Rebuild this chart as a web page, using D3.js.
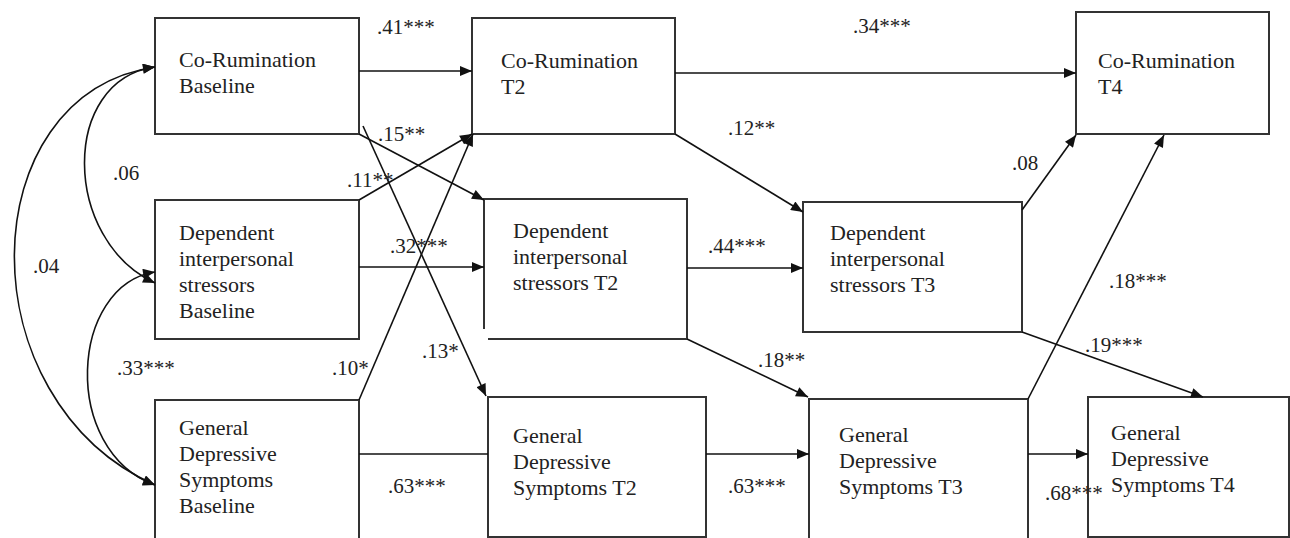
<!DOCTYPE html>
<html>
<head>
<meta charset="utf-8">
<script src="https://cdn.jsdelivr.net/npm/d3@7"></script>
<style>
  html, body { margin: 0; padding: 0; background: #fff; }
  svg { display: block; }
</style>
</head>
<body>
<div id="graph"></div>
<script>
!(function(){
    "use strict"

    var width = 1290;
    var height = 538;

    // --- data ---
    var nodeIds = ["crB", "crT2", "crT4", "dsB", "dsT2", "dsT3", "gdB", "gdT2", "gdT3", "gdT4"];
    var nodeLabels = [
        ["Co-Rumination", "Baseline"],
        ["Co-Rumination", "T2"],
        ["Co-Rumination", "T4"],
        ["Dependent", "interpersonal", "stressors", "Baseline"],
        ["Dependent", "interpersonal", "stressors T2"],
        ["Dependent", "interpersonal", "stressors T3"],
        ["General", "Depressive", "Symptoms", "Baseline"],
        ["General", "Depressive", "Symptoms T2"],
        ["General", "Depressive", "Symptoms T3"],
        ["General", "Depressive", "Symptoms T4"]
    ];

    // directed paths (from -> to) and their coefficients
    var pathFrom = ["crB", "crT2", "crB", "dsB", "crB", "gdB", "dsB", "gdB", "crT2", "dsT2", "dsT2", "gdT2", "dsT3", "gdT3", "dsT3", "gdT3"];
    var pathTo   = ["crT2", "crT4", "dsT2", "crT2", "gdT2", "crT2", "dsT2", "gdT2", "dsT3", "dsT3", "gdT3", "gdT3", "crT4", "crT4", "gdT4", "gdT4"];
    var pathCoef = [".41***", ".34***", ".15**", ".11**", ".13*", ".10*", ".32***", ".63***", ".12**", ".44***", ".18**", ".63***", ".08", ".18***", ".19***", ".68***"];

    // baseline correlations (two-headed)
    var corrA = ["crB", "crB", "dsB"];
    var corrB = ["dsB", "gdB", "gdB"];
    var corrCoef = [".06", ".04", ".33***"];

    // --- layout (pixel geometry of the drawing) ---
    var boxLayout = {
        crB:  { x0: 155, y0: 18,  x1: 359,  y1: 134, tx: 179,  ty: 67 },
        crT2: { x0: 472, y0: 18,  x1: 675,  y1: 134, tx: 501,  ty: 68 },
        crT4: { x0: 1076, y0: 12, x1: 1269, y1: 134, tx: 1098, ty: 68 },
        dsB:  { x0: 155, y0: 200, x1: 359,  y1: 339, tx: 179,  ty: 240 },
        dsT2: { x0: 484, y0: 199, x1: 687,  y1: 339, tx: 513,  ty: 238, gap: true },
        dsT3: { x0: 803, y0: 202, x1: 1022, y1: 332, tx: 830,  ty: 240 },
        gdB:  { x0: 155, y0: 400, x1: 359,  y1: 560, tx: 179,  ty: 435 },
        gdT2: { x0: 488, y0: 397, x1: 706,  y1: 537, tx: 513,  ty: 443 },
        gdT3: { x0: 809, y0: 399, x1: 1028, y1: 560, tx: 839,  ty: 442 },
        gdT4: { x0: 1088, y0: 397, x1: 1289, y1: 537, tx: 1111, ty: 440 }
    };
    var lineHeight = 26;

    // start/end of each directed path, label anchor, arrowhead or not
    var pathLayout = [
        { p: [[359, 71], [472, 71]],   l: [377, 34] },
        { p: [[675, 73], [1076, 73]],  l: [853, 33] },
        { p: [[359, 134], [484, 200]], l: [378, 141] },
        { p: [[359, 200], [472, 134]], l: [347, 187] },
        { p: [[363, 126], [486, 396]], l: [422, 358] },
        { p: [[359, 400], [473, 134]], l: [332, 375] },
        { p: [[359, 267], [484, 267]], l: [390, 253] },
        { p: [[359, 454], [488, 454]], l: [388, 493], noHead: true },
        { p: [[675, 134], [803, 212]], l: [728, 135] },
        { p: [[687, 268], [803, 268]], l: [708, 253] },
        { p: [[687, 339], [808, 397]], l: [758, 367] },
        { p: [[706, 454], [809, 454]], l: [728, 493] },
        { p: [[1022, 210], [1076, 135]], l: [1012, 170] },
        { p: [[1028, 399], [1164, 135]], l: [1109, 288] },
        { p: [[1022, 332], [1203, 397]], l: [1085, 352] },
        { p: [[1028, 454], [1088, 454]], l: [1045, 500] }
    ];

    var corrLayout = [
        { d: "M155,67 C60,80 62,240 155,283",    l: [113, 180] },
        { d: "M155,67 C-30,95 -35,400 155,485",  l: [33, 273] },
        { d: "M155,272 C70,285 60,450 155,485",  l: [117, 375] }
    ];

    var svg = d3.select("#graph")
        .append("svg")
        .attr("width", width)
        .attr("height", height)
        .style("font-family", "'Liberation Serif', 'Times New Roman', serif");

    svg.append("rect").attr("width", width).attr("height", height).attr("fill", "#fff");

    svg.append("defs").append("marker")
        .attr("id", "head")
        .attr("viewBox", "0 0 12 10")
        .attr("refX", 12)
        .attr("refY", 5)
        .attr("markerUnits", "userSpaceOnUse")
        .attr("markerWidth", 13)
        .attr("markerHeight", 10)
        .attr("orient", "auto-start-reverse")
        .append("path")
        .attr("d", "M0,0 L12,5 L0,10 Z")
        .attr("fill", "#111");

    // boxes
    var nodes = nodeIds.map(function(id, i) {
        return { id: id, lines: nodeLabels[i], box: boxLayout[id] };
    });

    var g = svg.selectAll("g.node")
        .data(nodes)
        .enter()
        .append("g")
        .attr("class", "node");

    g.append("path")
        .attr("d", function(d) {
            var b = d.box, p = d3.path();
            if (b.gap) {	// this box is drawn with its lower-left corner left open
                p.moveTo(b.x0, b.y1 - 10);
                p.lineTo(b.x0, b.y0);
                p.lineTo(b.x1, b.y0);
                p.lineTo(b.x1, b.y1);
                p.lineTo(b.x0 + 4, b.y1);
            } else {
                p.rect(b.x0, b.y0, b.x1 - b.x0, b.y1 - b.y0);
            }
            return p.toString();
        })
        .attr("fill", "none")
        .attr("stroke", "#333")
        .attr("stroke-width", 2);

    g.selectAll("text")
        .data(function(d) { return d.lines.map(function(t, i) { return { t: t, i: i, box: d.box }; }); })
        .enter()
        .append("text")
        .attr("x", function(d) { return d.box.tx; })
        .attr("y", function(d) { return d.box.ty + d.i * lineHeight; })
        .attr("font-size", 22)
        .attr("fill", "#222")
        .text(function(d) { return d.t; });

    // directed paths
    var paths = pathFrom.map(function(f, i) {
        return { from: f, to: pathTo[i], coef: pathCoef[i], lay: pathLayout[i] };
    });

    var line = d3.line();

    svg.selectAll("path.edge")
        .data(paths)
        .enter()
        .append("path")
        .attr("class", "edge")
        .attr("d", function(d) { return line(d.lay.p); })
        .attr("fill", "none")
        .attr("stroke", "#111")
        .attr("stroke-width", 1.6)
        .attr("marker-end", function(d) { return d.lay.noHead ? null : "url(#head)"; });

    svg.selectAll("text.coef")
        .data(paths)
        .enter()
        .append("text")
        .attr("class", "coef")
        .attr("x", function(d) { return d.lay.l[0]; })
        .attr("y", function(d) { return d.lay.l[1]; })
        .attr("font-size", 21)
        .attr("fill", "#222")
        .text(function(d) { return d.coef; });

    // correlations
    var corrs = corrA.map(function(a, i) {
        return { a: a, b: corrB[i], coef: corrCoef[i], lay: corrLayout[i] };
    });

    svg.selectAll("path.corr")
        .data(corrs)
        .enter()
        .append("path")
        .attr("class", "corr")
        .attr("d", function(d) { return d.lay.d; })
        .attr("fill", "none")
        .attr("stroke", "#111")
        .attr("stroke-width", 1.6)
        .attr("marker-start", "url(#head)")
        .attr("marker-end", "url(#head)");

    svg.selectAll("text.corrcoef")
        .data(corrs)
        .enter()
        .append("text")
        .attr("class", "corrcoef")
        .attr("x", function(d) { return d.lay.l[0]; })
        .attr("y", function(d) { return d.lay.l[1]; })
        .attr("font-size", 21)
        .attr("fill", "#222")
        .text(function(d) { return d.coef; });

}());
</script>
</body>
</html>
